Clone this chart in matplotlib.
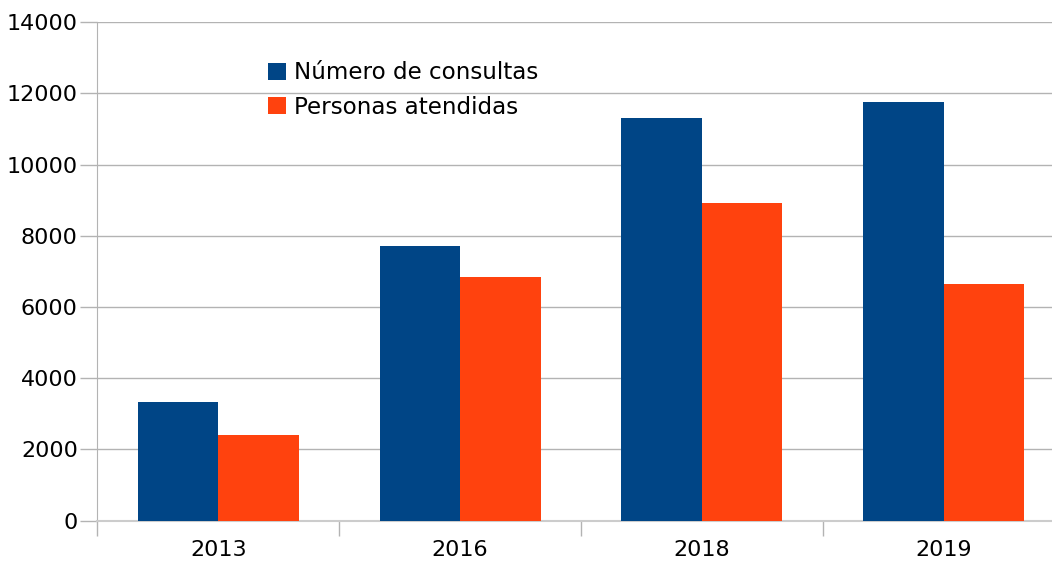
import matplotlib
matplotlib.use("Agg")
import matplotlib.pyplot as plt
import numpy as np
from matplotlib.ticker import FixedLocator

years = ["2013", "2016", "2018", "2019"]
consultas = [3340, 7725, 11310, 11755]
personas = [2400, 6835, 8915, 6640]
series_names = ["Número de consultas", "Personas atendidas"]
yticks = [0, 2000, 4000, 6000, 8000, 10000, 12000, 14000]

blue = "#004586"
orange = "#ff420e"
grid_c = "#b3b3b3"

plt.rcParams['font.family'] = ['DejaVu Sans']

fig = plt.figure(figsize=(10.52, 5.64), dpi=100)
ax = fig.add_axes([97.3/1052, 43.3/564, 967.3/1052, 498.6/564])

x = np.arange(len(years))
w = 0.333
ax.bar(x - w/2, consultas, width=w, color=blue, label=series_names[0], zorder=3)
ax.bar(x + w/2, personas, width=w, color=orange, label=series_names[1], zorder=3)

ax.set_xlim(-0.5, len(years) - 0.5)
ax.set_ylim(0, 14000)
ax.set_yticks(yticks)
ax.set_yticklabels([str(v) for v in yticks], fontsize=16)
ax.set_xticks(x)
ax.set_xticklabels(years, fontsize=16)
ax.xaxis.set_minor_locator(FixedLocator(np.arange(-0.5, len(years), 1.0)))
ax.tick_params(axis='x', which='major', length=0, pad=14)
ax.tick_params(axis='x', which='minor', length=11, color=grid_c, width=1)
ax.tick_params(axis='y', which='major', length=12, color=grid_c, width=1, pad=2)

ax.yaxis.grid(True, color=grid_c, linewidth=1, zorder=0)
ax.set_axisbelow(True)
for s in ['top', 'right']:
    ax.spines[s].set_visible(False)
ax.spines['left'].set_color(grid_c)
ax.spines['bottom'].set_color("#cccccc")
ax.spines['bottom'].set_linewidth(1.5)

leg = ax.legend(loc='upper left', bbox_to_anchor=((259-97.3)/967.3, (564-43.3-52)/498.6),
                frameon=False, fontsize=16.6, handlelength=0.75, handleheight=0.75,
                handletextpad=0.35, labelspacing=0.5, borderaxespad=0)

fig.savefig("out.png", dpi=100)
